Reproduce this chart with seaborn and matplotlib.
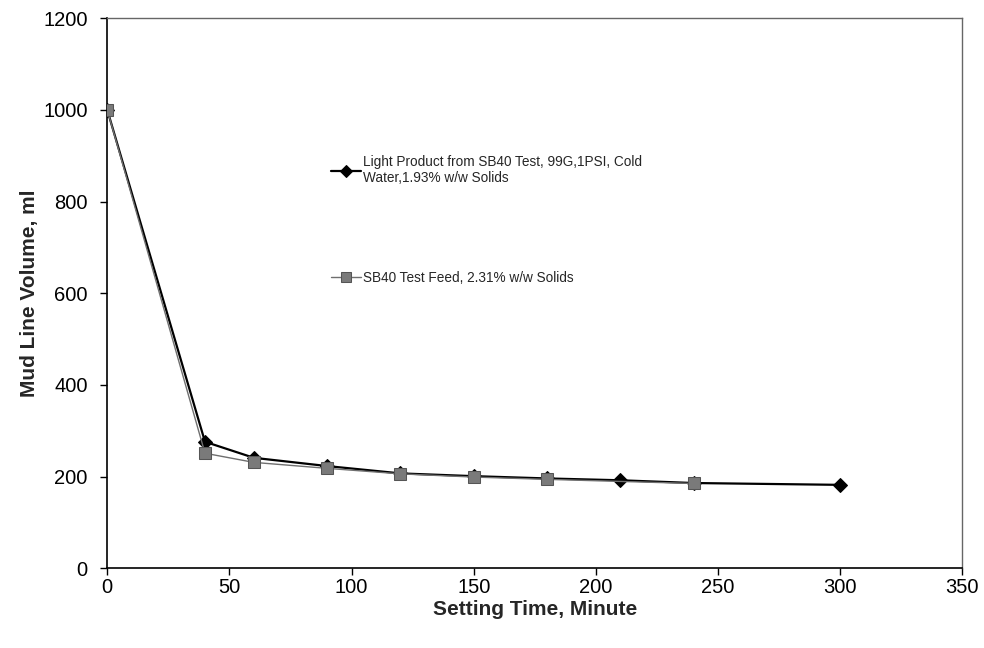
import pandas as pd
import matplotlib
matplotlib.use("Agg")
import matplotlib.pyplot as plt
import seaborn as sns

# light product (diamonds)
light_time = [0, 40, 60, 90, 120, 150, 180, 210, 240, 300]
light_vol = [1000, 276, 241, 223, 207, 201, 196, 192, 186, 182]

# test feed (squares)
feed_time = [0, 40, 60, 90, 120, 150, 180, 240]
feed_vol = [1000, 251, 231, 218, 206, 199, 194, 185]

light_label = "Light Product from SB40 Test, 99G,1PSI, Cold\nWater,1.93% w/w Solids"
feed_label = "SB40 Test Feed, 2.31% w/w Solids"

df_light = pd.DataFrame({"Time": light_time, "Volume": light_vol})
df_feed = pd.DataFrame({"Time": feed_time, "Volume": feed_vol})

sns.set_style("white")
plt.rcParams["font.family"] = ["Liberation Sans", "DejaVu Sans"]

fig, ax = plt.subplots(figsize=(9.84, 6.48), dpi=100)
fig.subplots_adjust(left=0.109, right=0.978, top=0.972, bottom=0.123)

sns.lineplot(data=df_light, x="Time", y="Volume", ax=ax, color="black", lw=1.6,
             marker="D", markersize=7.5, markerfacecolor="black", markeredgecolor="black",
             label=light_label, zorder=2)
sns.lineplot(data=df_feed, x="Time", y="Volume", ax=ax, color="#6f6f6f", lw=1.0,
             marker="s", markersize=9, markerfacecolor="#7a7a7a", markeredgecolor="#555555",
             label=feed_label, zorder=3)

ax.set_xlim(0, 350)
ax.set_ylim(0, 1200)
ax.set_xticks(range(0, 351, 50))
ax.set_yticks(range(0, 1201, 200))
ax.tick_params(axis="both", labelsize=14.5, direction="out", length=5, width=1,
               bottom=True, left=True, colors="black")
ax.tick_params(axis="x", pad=2)
ax.tick_params(axis="y", pad=9)
ax.set_xlabel("Setting Time, Minute", fontsize=15, fontweight="bold", labelpad=2)
ax.set_ylabel("Mud Line Volume, ml", fontsize=15, fontweight="bold", labelpad=3)

for side in ["left", "bottom"]:
    ax.spines[side].set_color("black")
    ax.spines[side].set_linewidth(1.2)
for side in ["top", "right"]:
    ax.spines[side].set_color("#666666")
    ax.spines[side].set_linewidth(1.0)
    ax.spines[side].set_linestyle((0, (1.5, 1)))

leg = ax.legend(loc="upper left", bbox_to_anchor=(0.247, 0.774), frameon=False,
                fontsize=9.8, labelspacing=6.3, handlelength=2.2, handletextpad=0.2,
                markerscale=0.8)

fig.savefig("out.png", dpi=100)
